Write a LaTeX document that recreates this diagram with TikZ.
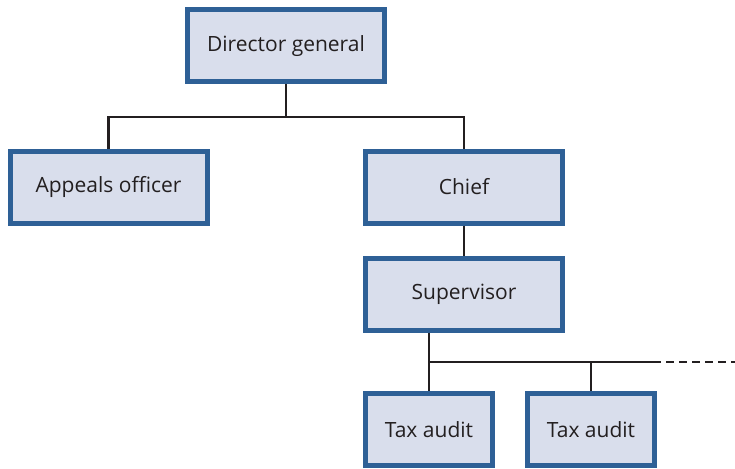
\documentclass[tikz,border=0pt]{standalone}
\usepackage{fontspec}
\setmainfont{Open Sans}
\definecolor{boxfill}{HTML}{D9DEEC}
\definecolor{boxedge}{HTML}{2E6096}
\definecolor{wire}{HTML}{231F20}
\begin{document}
\begin{tikzpicture}[x=1pt,y=-1pt,
  unit/.style={draw=boxedge, fill=boxfill, line width=5pt, rectangle,
    minimum height=72pt, inner sep=0pt, font=\fontsize{21}{24}\selectfont, text=wire},
  wide/.style={unit, minimum width=197pt},
  narrow/.style={unit, minimum width=127pt},
  link/.style={draw=wire, line width=2.2pt}]
\useasboundingbox (0,0) rectangle (735,468);

\node[wide]   (dg)   at (286,46)    {Director general};
\node[wide]   (ap)   at (108.5,187) {Appeals officer};
\node[wide]   (ch)   at (464,187)   {Chief};
\node[wide]   (sup)  at (464,294)   {Supervisor};
\node[narrow] (ta1)  at (429,429.5) {Tax audit};
\node[narrow] (ta2)  at (591,429.5) {Tax audit};

% branch points
\coordinate (top)  at (286,117);
\coordinate (bus)  at (429,362);
\coordinate (busend) at (653,362);
\coordinate (more) at (735,362);

\draw[link] (dg.south) -- (top);
\draw[link] (ap.north) |- (top) -| (ch.north);
\draw[link] (ch.south) -- (sup.north);
\draw[link] (sup.south -| ta1.north) -- (ta1.north);
\draw[link] (bus) -- (busend);
\draw[link] (busend -| ta2.north) -- (ta2.north);
\draw[link, dashed, dash pattern=on 8pt off 5pt] (busend) -- (more);
\end{tikzpicture}
\end{document}
